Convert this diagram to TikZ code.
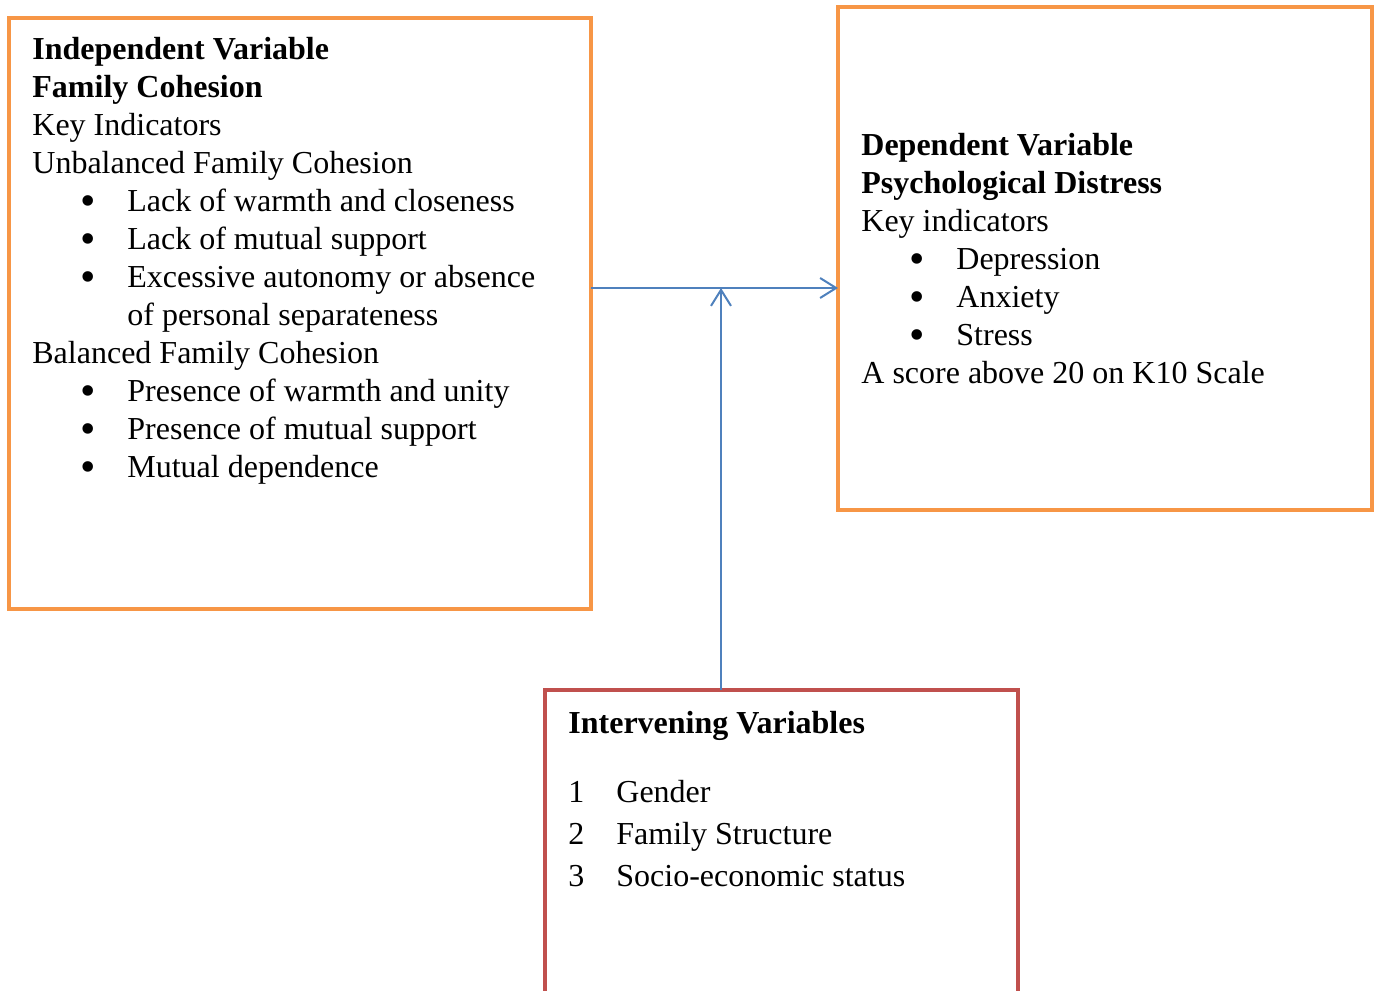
\documentclass[tikz,border=0pt]{standalone}
\usepackage{fontspec}
\setmainfont{Liberation Serif}
\usetikzlibrary{arrows.meta}
\definecolor{boxorange}{RGB}{247,150,70}
\definecolor{boxred}{RGB}{192,80,77}
\definecolor{linkblue}{RGB}{79,129,189}
\tikzset{>={Straight Barb[length=8pt,width=10pt,line width=1pt]}}
\newcommand{\itm}[1]{\hspace*{24pt}\makebox[23.5pt][l]{\raisebox{-2pt}[0pt][0pt]{\fontsize{22}{19}\selectfont\textbullet}}#1}
\newcommand{\num}[2]{\makebox[24pt][l]{#1}#2}

\begin{document}
\begin{tikzpicture}[x=0.5pt, y=-0.5pt,
  box/.style={draw=boxorange, line width=2pt, inner sep=0pt, outer sep=0pt, anchor=north west},
  txt/.style={inner sep=0pt, anchor=north west, align=left, font=\fontsize{16}{19}\selectfont}]
\useasboundingbox (0,0) rectangle (1380,990);
\clip (0,0) rectangle (1380,990);
\node[box, minimum width=291pt, minimum height=295.5pt] (ivbox) at (9,18) {};
\node[box, minimum width=267pt, minimum height=251.5pt] (dvbox) at (838,7) {};
\node[box, draw=boxred, minimum width=236.5pt, minimum height=165pt] (ovbox) at (545,690) {};
\node[txt] (ivtext) at (32,37) {\textbf{Independent Variable}\\
  \textbf{Family Cohesion}\\
  Key Indicators\\
  Unbalanced Family Cohesion\\
  \itm{Lack of warmth and closeness}\\
  \itm{Lack of mutual support}\\
  \itm{Excessive autonomy or absence}\\
  \hspace*{47.5pt}of personal separateness\\
  Balanced Family Cohesion\\
  \itm{Presence of warmth and unity}\\
  \itm{Presence of mutual support}\\
  \itm{Mutual dependence}};
\node[txt] (dvtext) at (861,133) {\textbf{Dependent Variable}\\
  \textbf{Psychological Distress}\\
  Key indicators\\
  \itm{Depression}\\
  \itm{Anxiety}\\
  \itm{Stress}\\
  A score above 20 on K10 Scale};
\node[txt, font=\fontsize{16}{21}\selectfont] (ovtext) at (568,711) {\textbf{Intervening Variables}\\[13.5pt]
  \num{1}{Gender}\\
  \num{2}{Family Structure}\\
  \num{3}{Socio-economic status}};
\coordinate (meet) at (721,288);
\draw[linkblue, line width=1pt, ->] (ivbox.east |- meet) -- (dvbox.west |- meet);
\draw[linkblue, line width=1pt, ->] (meet |- ovbox.north) -- (meet);
\end{tikzpicture}
\end{document}
